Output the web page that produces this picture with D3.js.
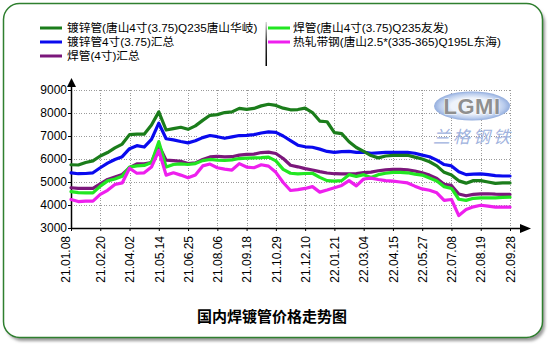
<!DOCTYPE html>
<html>
<head>
<meta charset="utf-8">
<script src="https://cdn.jsdelivr.net/npm/d3@7/dist/d3.min.js"></script>
<style>
  html, body { margin: 0; padding: 0; background: #fff; }
  svg { display: block; }
  text { font-family: "Liberation Sans", Arial, "Noto Sans CJK SC", sans-serif; }
</style>
</head>
<body>
<svg id="chart" width="550" height="350"></svg>
<script>
// Axis dates shown on the x axis; each interval between dates holds SAMPLES readings.
const dateLabels = ["21.01.08", "21.02.20", "21.04.02", "21.05.14", "21.06.25", "21.08.06",
  "21.09.18", "21.10.29", "21.12.10", "22.01.21", "22.03.04", "22.04.15", "22.05.27",
  "22.07.08", "22.08.19", "22.09.28"];
const SAMPLES = 4;
const yTicks = [3000, 4000, 5000, 6000, 7000, 8000, 9000];
const chartTitle = "国内焊镀管价格走势图";

// 镀锌管(唐山4寸(3.75)Q235唐山华岐)
const galvHuaqi = [5750, 5740, 5850, 5920, 6130, 6280, 6480, 6650, 7060, 7080, 7080, 7480, 8050,
  7260, 7320, 7380, 7290, 7440, 7680, 7900, 7930, 8020, 8050, 8200, 8160, 8200, 8310, 8380,
  8330, 8210, 8140, 8150, 8210, 8020, 7650, 7620, 7150, 7100, 6750, 6500, 6330, 6150, 6050,
  6130, 6160, 6160, 6160, 6080, 6000, 5880, 5700, 5420, 5300, 5050, 4950, 5060, 5060, 5000,
  4940, 4960, 4960];
// 焊管(唐山4寸(3.75)Q235友发)
const weldYoufa = [4580, 4540, 4530, 4530, 4820, 5050, 5130, 5250, 5650, 5700, 5720, 5850, 6750,
  5650, 5760, 5790, 5760, 5800, 5930, 5980, 5950, 5935, 5960, 6020, 6040, 6050, 6060, 6080,
  5920, 5550, 5380, 5355, 5370, 5380, 5200, 5060, 5040, 5060, 5320, 5240, 5320, 5200, 5320,
  5380, 5420, 5420, 5400, 5340, 5300, 5170, 5040, 4800, 4720, 4250, 4200, 4290, 4310, 4310,
  4310, 4330, 4340];
// 镀锌管4寸(3.75)汇总
const galvAvg = [5400, 5360, 5370, 5400, 5620, 5820, 5980, 6100, 6450, 6580, 6520, 6850, 7560,
  6880, 6830, 6760, 6700, 6790, 6930, 7020, 6970, 6900, 6960, 7020, 7030, 7060, 7130, 7180,
  7160, 7000, 6800, 6600, 6530, 6510, 6430, 6330, 6290, 6320, 6330, 6290, 6300, 6250, 6270,
  6290, 6290, 6290, 6290, 6250, 6170, 6100, 5950, 5760, 5700, 5450, 5320, 5340, 5350, 5320,
  5280, 5260, 5260];
// 热轧带钢(唐山2.5*(335-365)Q195L东海)
const hotStrip = [4240, 4150, 4170, 4170, 4460, 4640, 4890, 4960, 5600, 5380, 5400, 5650, 6370,
  5300, 5400, 5300, 5180, 5300, 5700, 5780, 5620, 5560, 5520, 5800, 5650, 5620, 5750, 5690,
  5420, 4980, 4630, 4670, 4720, 4800, 4560, 4650, 4750, 4850, 5060, 4830, 5130, 5170, 5110,
  5060, 5040, 5000, 4960, 4820, 4700, 4640, 4530, 4200, 4240, 3540, 3800, 3920, 3990, 3950,
  3910, 3910, 3910];
// 焊管(4寸)汇总
const weldAvg = [4750, 4720, 4720, 4720, 4920, 5110, 5220, 5330, 5620, 5790, 5790, 5850, 6600,
  5950, 5930, 5900, 5800, 5830, 5980, 6090, 6120, 6090, 6100, 6170, 6200, 6210, 6280, 6300,
  6240, 6020, 5730, 5660, 5580, 5520, 5450, 5390, 5360, 5355, 5355, 5370, 5410, 5430, 5490,
  5530, 5545, 5545, 5530, 5480, 5400, 5300, 5150, 4900, 4850, 4480, 4400, 4460, 4480, 4490,
  4470, 4460, 4460];

const series = [
  { name: "镀锌管(唐山4寸(3.75)Q235唐山华岐)", values: galvHuaqi, color: "#1b7d1b" },
  { name: "焊管(唐山4寸(3.75)Q235友发)", values: weldYoufa, color: "#22e622" },
  { name: "镀锌管4寸(3.75)汇总", values: galvAvg, color: "#0a0aee" },
  { name: "热轧带钢(唐山2.5*(335-365)Q195L东海)", values: hotStrip, color: "#ee1fee" },
  { name: "焊管(4寸)汇总", values: weldAvg, color: "#7b177b" }
];

const svg = d3.select("#chart");
const defs = svg.append("defs");

// Frame with soft shadow
const blur = defs.append("filter").attr("id", "shadow").attr("x", "-5%").attr("y", "-5%")
  .attr("width", "110%").attr("height", "110%");
blur.append("feGaussianBlur").attr("stdDeviation", 1.6);
svg.append("rect").attr("x", 6).attr("y", 7).attr("width", 539).attr("height", 334)
  .attr("rx", 16).attr("fill", "#9a9a9a").attr("filter", "url(#shadow)");
svg.append("rect").attr("x", 3.5).attr("y", 3.5).attr("width", 539).attr("height", 334)
  .attr("rx", 16).attr("fill", "#fff").attr("stroke", "#2f7f2f").attr("stroke-width", 1.5);

const plotLeft = 71, plotRight = 510, plotTop = 90, plotBottom = 228;
const x = d3.scaleLinear().domain([0, (dateLabels.length - 1) * SAMPLES]).range([plotLeft, plotRight]);
const y = d3.scaleLinear().domain([3000, 9000]).range([plotBottom, plotTop]);
const tickIdx = dateLabels.map((_, i) => i * SAMPLES);

// Dotted grid
const grid = svg.append("g").attr("stroke", "#9a9a9a").attr("stroke-width", 1)
  .attr("stroke-dasharray", "1,1.5").attr("shape-rendering", "crispEdges");
grid.selectAll("line.h").data(yTicks.slice(1)).join("line").attr("class", "h")
  .attr("x1", plotLeft).attr("x2", plotRight)
  .attr("y1", d => Math.round(y(d)) + 0.5).attr("y2", d => Math.round(y(d)) + 0.5);
grid.selectAll("line.v").data(tickIdx.slice(1)).join("line").attr("class", "v")
  .attr("x1", d => Math.round(x(d)) + 0.5).attr("x2", d => Math.round(x(d)) + 0.5)
  .attr("y1", plotTop).attr("y2", plotBottom);

// Watermark logo
const logo = svg.append("g");
const lg = defs.append("radialGradient").attr("id", "logoFill");
lg.append("stop").attr("offset", "55%").attr("stop-color", "#eef3fb");
lg.append("stop").attr("offset", "85%").attr("stop-color", "#b9cced");
lg.append("stop").attr("offset", "100%").attr("stop-color", "#93addd");
logo.append("ellipse").attr("cx", 472).attr("cy", 106).attr("rx", 38).attr("ry", 14.5)
  .attr("fill", "url(#logoFill)");
logo.append("text").attr("x", 472).attr("y", 114).attr("text-anchor", "middle")
  .attr("font-size", 22).attr("font-weight", "bold").attr("letter-spacing", 0.5)
  .attr("fill", "#8f8f8f").attr("stroke", "#fff").attr("stroke-width", 0.8).attr("paint-order", "stroke")
  .text("LGMI");
logo.append("text").attr("x", 473).attr("y", 143).attr("text-anchor", "middle")
  .attr("font-size", 17).attr("letter-spacing", 3).attr("font-style", "italic")
  .attr("fill", "#9fb3de").style("font-family", "'Noto Sans CJK SC', sans-serif")
  .text("兰格钢铁");

// Y axis
const yAxis = svg.append("g").attr("transform", `translate(${plotLeft},0)`)
  .call(d3.axisLeft(y).tickValues(yTicks).tickSize(3).tickPadding(1).tickFormat(d3.format("d")));
yAxis.select(".domain").remove();
yAxis.selectAll("text").attr("font-size", 12).attr("fill", "#000")
  .style("font-family", "'Liberation Sans', Arial, sans-serif");
yAxis.selectAll("line").attr("stroke", "#000");

// X axis
const xAxis = svg.append("g").attr("transform", `translate(0,${plotBottom})`)
  .call(d3.axisBottom(x).tickValues(tickIdx).tickSize(3).tickFormat(i => dateLabels[i / SAMPLES]));
xAxis.select(".domain").remove();
xAxis.selectAll("line").attr("stroke", "#000");
xAxis.selectAll("text")
  .attr("transform", "rotate(-90)")
  .attr("x", -8).attr("y", (d, i) => i === 0 ? -6 : 0).attr("dy", "0.35em")
  .style("text-anchor", "end").attr("font-size", 12).attr("fill", "#000")
  .style("font-family", "'Liberation Sans', Arial, sans-serif");

// Axis lines with arrow heads
svg.append("line").attr("x1", plotLeft + 0.5).attr("x2", plotLeft + 0.5)
  .attr("y1", plotBottom + 0.5).attr("y2", 85)
  .attr("stroke", "#000").attr("stroke-width", 1.5);
svg.append("path").attr("d", `M${plotLeft + 0.5},78 L${plotLeft + 5},87 L${plotLeft - 4},87 Z`).attr("fill", "#000");
svg.append("line").attr("x1", plotLeft).attr("x2", 522).attr("y1", plotBottom + 0.5).attr("y2", plotBottom + 0.5)
  .attr("stroke", "#000").attr("stroke-width", 1.5);
svg.append("path").attr("d", `M531,${plotBottom + 0.5} L520,${plotBottom - 4} L520,${plotBottom + 5} Z`).attr("fill", "#000");

// Price lines
const line = d3.line().x((d, i) => x(i)).y(d => y(d)).curve(d3.curveLinear);
const drawOrder = [4, 1, 3, 2, 0];
svg.append("g").selectAll("path").data(drawOrder.map(i => series[i])).join("path")
  .attr("d", d => line(d.values)).attr("fill", "none").attr("stroke", d => d.color)
  .attr("stroke-width", 3.2).attr("stroke-linejoin", "round").attr("stroke-linecap", "round");

// Legend
const legendPos = [
  { sx: 40, tx: 67, y: 28 }, { sx: 268, tx: 293, y: 28 },
  { sx: 40, tx: 67, y: 42 }, { sx: 268, tx: 293, y: 42 },
  { sx: 40, tx: 67, y: 56 }
];
const legend = svg.append("g");
series.forEach((s, i) => {
  const p = legendPos[i];
  legend.append("line").attr("x1", p.sx).attr("x2", p.sx + 22).attr("y1", p.y).attr("y2", p.y)
    .attr("stroke", s.color).attr("stroke-width", 3);
  legend.append("text").attr("x", p.tx).attr("y", p.y).attr("dy", "0.36em")
    .attr("font-size", 11.7).attr("fill", "#000").text(s.name);
});
const sepGrad = defs.append("linearGradient").attr("id", "sep")
  .attr("x1", 0).attr("x2", 0).attr("y1", 0).attr("y2", 1);
sepGrad.append("stop").attr("offset", "0%").attr("stop-color", "#d8d8d8");
sepGrad.append("stop").attr("offset", "45%").attr("stop-color", "#333");
sepGrad.append("stop").attr("offset", "100%").attr("stop-color", "#000");
legend.append("rect").attr("x", 265.5).attr("y", 22).attr("width", 1.5).attr("height", 44)
  .attr("fill", "url(#sep)");

// Title
svg.append("text").attr("x", 272).attr("y", 322).attr("text-anchor", "middle")
  .attr("font-size", 15).attr("font-weight", "bold").attr("fill", "#000")
  .style("font-family", "'Noto Sans CJK SC', sans-serif")
  .text(chartTitle);
</script>
</body>
</html>
